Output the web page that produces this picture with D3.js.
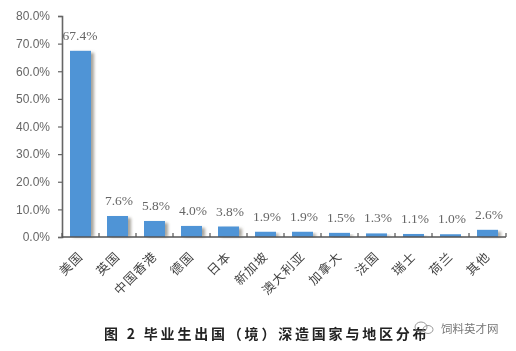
<!DOCTYPE html>
<html><head><meta charset="utf-8">
<script src="https://cdn.jsdelivr.net/npm/d3@7"></script>
<style>html,body{margin:0;padding:0;background:#fff}svg{display:block}</style>
</head><body><svg id="c" width="516" height="351"></svg>
<script>
const categories=["美国","英国","中国香港","德国","日本","新加坡","澳大利亚","加拿大","法国","瑞士","荷兰","其他"];
const values=[67.4,7.6,5.8,4.0,3.8,1.9,1.9,1.5,1.3,1.1,1.0,2.6];
const yTicks=[0,10,20,30,40,50,60,70,80];
const titleText="图 2 毕业生出国（境）深造国家与地区分布";
const watermark="饲料英才网";

const svg=d3.select("#c");
const defs=svg.append("defs");
const f=defs.append("filter").attr("id","sh").attr("x","-30%").attr("y","-30%").attr("width","160%").attr("height","160%");
f.append("feGaussianBlur").attr("stdDeviation",1.6);
const s=defs.append("filter").attr("id","soft").attr("x","-5%").attr("y","-20%").attr("width","110%").attr("height","140%");
s.append("feGaussianBlur").attr("stdDeviation",0.45);

const x=d3.scaleBand().domain(categories).range([62,506]).paddingInner(0).paddingOuter(0);
const y=d3.scaleLinear().domain([0,80]).range([237,16]);
const barW=21, step=x.step();
const g=svg.append("g").attr("filter","url(#soft)");

g.selectAll("rect.shadow").data(values).join("rect").attr("class","shadow")
 .attr("x",(d,i)=>x(categories[i])+(step-barW)/2+3)
 .attr("y",d=>y(d)+2).attr("width",barW)
 .attr("height",d=>Math.max(0,y(0)-y(d)-2))
 .attr("fill","#a8a49c").attr("filter","url(#sh)");
g.selectAll("rect.bar").data(values).join("rect").attr("class","bar")
 .attr("x",(d,i)=>x(categories[i])+(step-barW)/2)
 .attr("y",d=>y(d)).attr("width",barW)
 .attr("height",d=>y(0)-y(d)).attr("fill","#4f94d6");

const ya=g.append("g").attr("transform","translate(62,0)")
 .call(d3.axisLeft(y).tickValues(yTicks).tickFormat(d=>d.toFixed(1)+"%").tickSize(4).tickPadding(8));
ya.select(".domain").attr("stroke","#666").attr("stroke-width",1.6);
ya.selectAll(".tick line").attr("stroke","#666").attr("stroke-width",1.2);
ya.selectAll("text").attr("fill","#666").style("font-family","'Liberation Sans',Arial,sans-serif").style("font-size","12px");

const xa=g.append("g").attr("transform","translate(0,237)");
xa.append("line").attr("x1",62).attr("x2",506).attr("stroke","#555").attr("stroke-width",1.4);
xa.selectAll("line.t").data(d3.range(categories.length+1)).join("line").attr("class","t")
 .attr("x1",i=>62+i*step).attr("x2",i=>62+i*step).attr("y1",0).attr("y2",-4).attr("stroke","#555").attr("stroke-width",1.2);

g.selectAll("text.cat").data(categories).join("text").attr("class","cat")
 .attr("transform",d=>`translate(${x(d)+step/2-3},${251}) rotate(-45)`)
 .attr("text-anchor","end").attr("dy","0.7em")
 .attr("fill","#444").style("font-family","'Noto Sans CJK SC'").style("font-size","12.5px").style("letter-spacing","1px")
 .text(d=>d);

g.selectAll("text.val").data(values).join("text").attr("class","val")
 .attr("x",(d,i)=>x(categories[i])+step/2+(i===0?-0.5:1.5))
 .attr("y",d=>y(d)-11)
 .attr("text-anchor","middle").attr("fill","#666")
 .style("font-family","'Liberation Serif',serif").style("font-size","13.5px")
 .text(d=>d.toFixed(1)+"%");

g.append("text").attr("x",104).attr("y",339).attr("fill","#222")
 .style("font-family","'Noto Sans CJK SC'").style("font-weight","700").style("font-size","14px").style("letter-spacing","2.8px")
 .text(titleText);

g.append("text").attr("x",441).attr("y",333).attr("fill","#777")
 .style("font-family","'Noto Sans CJK SC'").style("font-size","11.5px")
 .text(watermark);
const wm=svg.append("g").attr("transform","translate(421,327)").attr("fill","none").attr("stroke","#999").attr("stroke-width",1);
wm.append("ellipse").attr("cx",0).attr("cy",0).attr("rx",6).attr("ry",5);
wm.append("ellipse").attr("cx",7).attr("cy",2.5).attr("rx",5).attr("ry",4);
</script></body></html>
